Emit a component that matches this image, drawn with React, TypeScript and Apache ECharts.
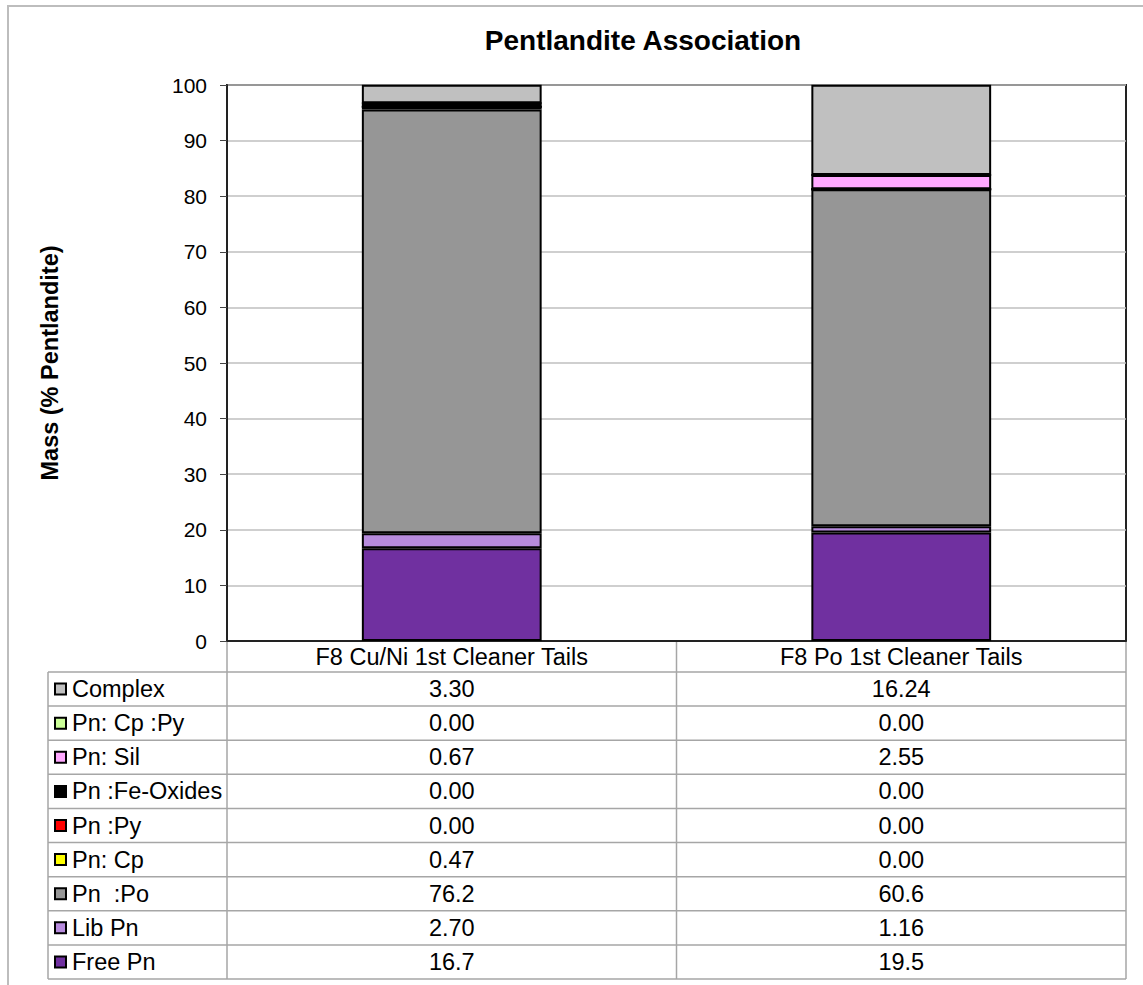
import React, { useEffect, useRef } from "react";
import * as echarts from "echarts";

const categories = ["F8 Cu/Ni 1st Cleaner Tails", "F8 Po 1st Cleaner Tails"];

// Stack order: bottom to top
const seriesNames = [
  "Free Pn",
  "Lib Pn",
  "Pn  :Po",
  "Pn: Cp",
  "Pn :Py",
  "Pn :Fe-Oxides",
  "Pn: Sil",
  "Pn: Cp :Py",
  "Complex",
];
const freePn = ["16.7", "19.5"];
const libPn = ["2.70", "1.16"];
const pnPo = ["76.2", "60.6"];
const pnCp = ["0.47", "0.00"];
const pnPy = ["0.00", "0.00"];
const pnFeOx = ["0.00", "0.00"];
const pnSil = ["0.67", "2.55"];
const pnCpPy = ["0.00", "0.00"];
const complex = ["3.30", "16.24"];
const seriesValues = [freePn, libPn, pnPo, pnCp, pnPy, pnFeOx, pnSil, pnCpPy, complex];
const seriesColors = [
  "#7030A0",
  "#B78BDD",
  "#969696",
  "#FFFF00",
  "#FF0000",
  "#000000",
  "#FFA8FF",
  "#CCFF99",
  "#C0C0C0",
];

const yTicksMax = 100;
const yTicksStep = 10;

const FONT = "'Liberation Sans', Arial, sans-serif";

export default function App() {
  const ref = useRef<HTMLDivElement>(null);
  useEffect(() => {
    if (!ref.current) return;
    const chart = echarts.init(ref.current, null, { renderer: "svg" });

    const W = 1143;
    const H = 985;
    const plotL = 227;
    const plotR = 1126;
    const plotT = 85;
    const plotB = 641;
    const tableL = 48;
    const headerB = 672;
    const tableB = 979;
    const nRows = seriesNames.length;
    const rowH = (tableB - headerB) / nRows;
    const colW = (plotR - plotL) / categories.length;
    const lineColor = "#A6A6A6";
    const fs = 23.5;

    const graphic: any[] = [];
    graphic.push({
      type: "rect",
      shape: { x: 8, y: 6, width: W + 20, height: H + 20 },
      style: { fill: "none", stroke: "#BDBDBD", lineWidth: 2 },
      z: 0,
    });
    graphic.push({
      type: "text",
      x: 643,
      y: 40,
      style: {
        text: "Pentlandite Association",
        font: `bold 28px ${FONT}`,
        fill: "#000",
        textAlign: "center",
        textVerticalAlign: "middle",
      },
    });
    for (let i = 0; i <= nRows; i++) {
      const y = headerB + i * rowH;
      graphic.push({
        type: "line",
        shape: { x1: tableL, y1: y, x2: plotR, y2: y },
        style: { stroke: lineColor, lineWidth: 1.5 },
      });
    }
    graphic.push({
      type: "line",
      shape: { x1: tableL, y1: headerB, x2: tableL, y2: tableB },
      style: { stroke: lineColor, lineWidth: 1.5 },
    });
    for (let c = 0; c <= categories.length; c++) {
      const x = plotL + c * colW;
      graphic.push({
        type: "line",
        shape: { x1: x, y1: plotB, x2: x, y2: tableB },
        style: { stroke: lineColor, lineWidth: 1.5 },
      });
    }
    for (let r = 0; r < nRows; r++) {
      const si = nRows - 1 - r;
      const cy = headerB + (r + 0.5) * rowH;
      graphic.push({
        type: "rect",
        shape: { x: 55, y: cy - 5.5, width: 11, height: 11 },
        style: { fill: seriesColors[si], stroke: "#000", lineWidth: 2 },
      });
      graphic.push({
        type: "text",
        x: 72,
        y: cy,
        style: {
          text: seriesNames[si],
          font: `${fs}px ${FONT}`,
          fill: "#000",
          textAlign: "left",
          textVerticalAlign: "middle",
        },
      });
      for (let c = 0; c < categories.length; c++) {
        graphic.push({
          type: "text",
          x: plotL + (c + 0.5) * colW,
          y: cy,
          style: {
            text: seriesValues[si][c],
            font: `${fs}px ${FONT}`,
            fill: "#000",
            textAlign: "center",
            textVerticalAlign: "middle",
          },
        });
      }
    }

    const option: any = {
      animation: false,
      backgroundColor: "#fff",
      textStyle: { fontFamily: FONT },
      grid: {
        left: plotL,
        right: W - plotR,
        top: plotT,
        bottom: H - plotB,
        show: true,
        borderColor: "#222",
        borderWidth: 2,
        backgroundColor: "#fff",
      },
      xAxis: {
        type: "category",
        data: categories,
        axisLine: { show: true, lineStyle: { color: "#222", width: 2 } },
        axisTick: { show: false },
        axisLabel: {
          show: true,
          color: "#000",
          fontSize: fs,
          fontFamily: FONT,
          margin: 4,
        },
      },
      yAxis: {
        type: "value",
        min: 0,
        max: yTicksMax,
        interval: yTicksStep,
        name: "Mass (% Pentlandite)",
        nameLocation: "middle",
        nameGap: 165,
        nameTextStyle: { fontSize: 23.5, fontWeight: "bold", color: "#000", fontFamily: FONT },
        axisLine: { show: true, lineStyle: { color: "#222", width: 2 } },
        axisTick: { show: true, length: 7, lineStyle: { color: "#444", width: 1 } },
        axisLabel: { color: "#000", fontSize: 21, fontFamily: FONT, margin: 20 },
        splitLine: { show: true, lineStyle: { color: "#BFBFBF", width: 1.5 } },
      },
      series: seriesNames.map((name, i) => ({
        name,
        type: "bar",
        stack: "total",
        barWidth: "40%",
        data: seriesValues[i].map((v) => parseFloat(v)),
        itemStyle: { color: seriesColors[i], borderColor: "#000", borderWidth: 2 },
      })),
      graphic,
    };
    chart.setOption(option);
    return () => chart.dispose();
  }, []);

  return (
    <div
      ref={ref}
      style={{ position: "fixed", left: 0, top: 0, width: 1143, height: 985, background: "#fff" }}
    />
  );
}
